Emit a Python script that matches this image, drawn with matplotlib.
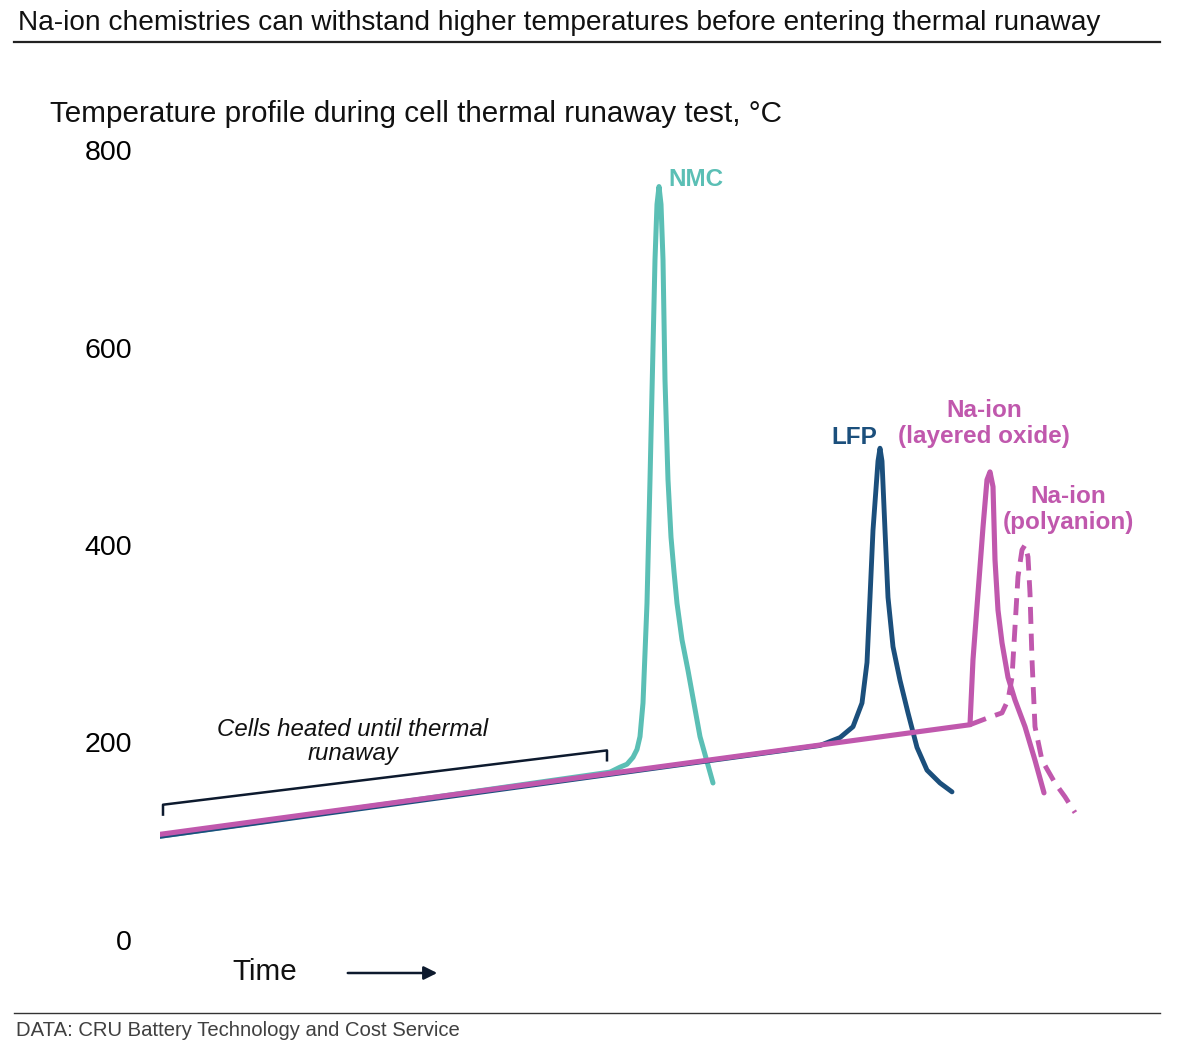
import matplotlib
matplotlib.use('Agg')
from matplotlib import pyplot as plt
from matplotlib.lines import Line2D

plt.rcParams['font.family'] = ['Liberation Sans', 'DejaVu Sans']

# time (arbitrary units) and temperature (deg C)
nmc_t = [0, 45, 46, 46.7, 47.3, 47.7, 48, 48.3, 48.7, 49.0, 49.5, 49.7, 49.9, 50.1, 50.3, 50.5, 50.8, 51.1,
         51.4, 51.7, 52.2, 52.8, 54.0, 55.3]
nmc_v = [105, 170, 175, 178, 185, 193, 206, 240, 341, 466, 689, 745, 763, 745, 689, 567, 466, 408,
         373, 341, 304, 273, 206, 159]

lfp_t = [0, 66.0, 68.0, 69.3, 70.2, 70.7, 71.0, 71.3, 71.8, 72.0, 72.2, 72.5, 72.8, 73.3, 74.0, 74.8,
         75.7, 76.7, 78.0, 79.2]
lfp_v = [105, 197, 205, 216, 240, 281, 347, 415, 485, 498, 485, 415, 347, 297, 263, 230,
         195, 172, 159, 150]

layered_t = [0, 81.0, 81.3, 81.8, 82.3, 82.7, 83.0, 83.3, 83.5, 83.8, 84.2, 84.8, 85.5, 86.5, 87.5, 88.4]
layered_v = [107, 218, 284, 351, 418, 466, 474, 459, 385, 334, 301, 266, 243, 216, 182, 149]

poly_t = [81.0, 82.8, 84.2, 84.8, 85.2, 85.5, 85.8, 86.2, 86.5, 86.8, 87.0, 87.2, 87.5, 88.2, 89.5,
          90.5, 91.5]
poly_v = [218, 225, 230, 243, 266, 317, 368, 395, 400, 388, 351, 284, 216, 182, 159,
          145, 129]

yticks = [0, 200, 400, 600, 800]

teal = '#5bbfb5'
navy = '#1b4f7c'
pink = '#c058ad'

fig = plt.figure(figsize=(11.82, 10.51), dpi=100)
ax = fig.add_axes([160 / 1182, 111 / 1051, 920 / 1182, 790 / 1051])

ax.plot(nmc_t, nmc_v, color=teal, lw=3.6, solid_capstyle='round', solid_joinstyle='round')
ax.plot(lfp_t, lfp_v, color=navy, lw=3.5, solid_capstyle='round', solid_joinstyle='round')
ax.plot(poly_t, poly_v, color=pink, lw=3.5, dashes=(3.5, 2.0), dash_capstyle='butt')
ax.plot(layered_t, layered_v, color=pink, lw=3.7, solid_capstyle='round', solid_joinstyle='round')

ax.set_xlim(0, 92)
ax.set_ylim(0, 800)
ax.set_yticks(yticks)
ax.set_yticklabels([str(v) for v in yticks])
ax.tick_params(axis='y', length=0, pad=20, labelsize=20.5)
ax.set_xticks([])
for s in ax.spines.values():
    s.set_visible(False)

# series labels
ax.text(50.8, 770, 'NMC', color=teal, fontsize=17.5, fontweight='bold', ha='left', va='center')
ax.text(71.7, 509, 'LFP', color=navy, fontsize=17.5, fontweight='bold', ha='right', va='center')
ax.text(82.4, 523, 'Na-ion\n(layered oxide)', color=pink, fontsize=17.5, fontweight='bold',
        ha='center', va='center', linespacing=1.15)
ax.text(90.8, 436, 'Na-ion\n(polyanion)', color=pink, fontsize=17.5, fontweight='bold',
        ha='center', va='center', linespacing=1.15)

# bracket for the heating phase
ax.plot([0.3, 0.3, 44.7, 44.7], [127, 137, 192, 182], color='#0d1a2e', lw=1.8, clip_on=False)
ax.text(19.3, 201, 'Cells heated until thermal\nrunaway', fontsize=17.3, style='italic',
        ha='center', va='center', color='#111111', linespacing=1.1)

# titles and notes
fig.text(18 / 1182, 1 - 23 / 1051, 'Na-ion chemistries can withstand higher temperatures before entering thermal runaway',
         fontsize=20.2, ha='left', va='center', color='#111111')
fig.add_artist(Line2D([14 / 1182, 1160 / 1182], [1 - 42 / 1051] * 2, color='#222222', lw=1.6))
fig.text(50 / 1182, 1 - 114 / 1051, 'Temperature profile during cell thermal runaway test, \u00b0C',
         fontsize=21.3, ha='left', va='center', color='#111111')
fig.text(232 / 1182, 1 - 972 / 1051, 'Time', fontsize=21.3, ha='left', va='center', color='#111111')
fig.add_artist(plt.Annotation('', xy=(440 / 1182, 1 - 973 / 1051), xytext=(345 / 1182, 1 - 973 / 1051),
                              xycoords='figure fraction', textcoords='figure fraction',
                              arrowprops=dict(arrowstyle='-|>', color='#0d1a2e', lw=1.8, mutation_scale=20)))
fig.add_artist(Line2D([14 / 1182, 1160 / 1182], [1 - 1013 / 1051] * 2, color='#333333', lw=1.0))
fig.text(16 / 1182, 1 - 1030 / 1051, 'DATA: CRU Battery Technology and Cost Service',
         fontsize=14.6, ha='left', va='center', color='#404040')

plt.savefig('out.png', dpi=100)
